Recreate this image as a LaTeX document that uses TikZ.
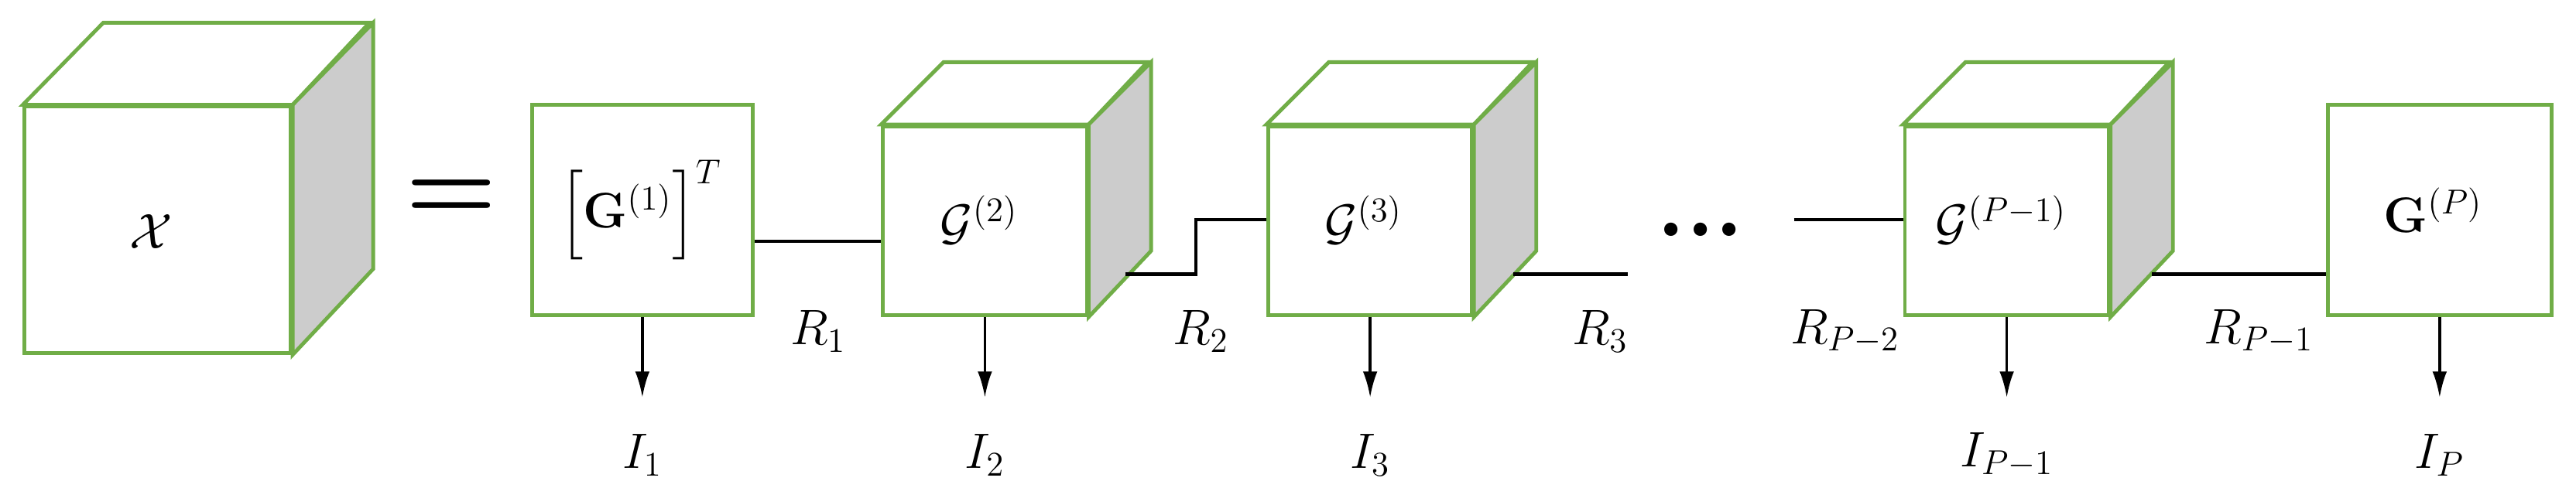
\documentclass[tikz,border=0pt]{standalone}
\usepackage{amsmath}
\usetikzlibrary{arrows.meta}
\definecolor{grn}{HTML}{70AD47}
\definecolor{gry}{HTML}{CCCCCC}
\begin{document}
\begin{tikzpicture}[x=0.02cm,y=-0.02cm,
  face/.style={draw=grn,line width=1.3pt,line join=miter},
  core/.style={face,fill=white,rectangle,inner sep=0pt},
  lbl/.style={font=\fontsize{16.5}{19}\selectfont},
  conn/.style={line width=1.1pt},
  outarr/.style={line width=0.9pt,-{Latex[length=9pt,width=5pt]}}]
\useasboundingbox (0,0) rectangle (1568,297);
% big cube
\node[core,minimum width=162*0.02cm,minimum height=150*0.02cm] (X) at (96,140) {};
\draw[face,fill=white] (X.north west) -- ++(49,-50) -- ++(162,0) -- (X.north east) -- cycle;
\draw[face,fill=gry] (X.north east) -- ++(49,-50) -- ++(0,150) -- (X.south east) -- cycle;
\node[lbl] (xl) at (92,141) {$\mathcal{X}$};
\node[font=\fontsize{36}{36}\selectfont\bfseries] (eq) at (275,122) {=};
% G1
\node[core,minimum width=134*0.02cm,minimum height=128*0.02cm] (g1) at (391,128) {};
\node[lbl] (g1l) at (390,128) {$\boldsymbol{\Bigl[}\mathbf{G}^{(1)}\boldsymbol{\Bigr]}^{T}$};
% cubes
\foreach \n/\cx in {g2/599.5,g3/834,gq/1221.5}{
  \node[core,minimum width=124*0.02cm,minimum height=115*0.02cm] (\n) at (\cx,134.5) {};
  \draw[face,fill=white] (\n.north west) -- ++(38,-38) -- ++(124,0) -- (\n.north east) -- cycle;
  \draw[face,fill=gry] (\n.north east) -- ++(38,-38) -- ++(0,115) -- (\n.south east) -- cycle;
}
\node[lbl] (g2l) at (596,134) {$\mathcal{G}^{(2)}$};
\node[lbl] (g3l) at (830,134) {$\mathcal{G}^{(3)}$};
\node[lbl] (gql) at (1218,134) {$\mathcal{G}^{(P-1)}$};
\node[core,minimum width=136*0.02cm,minimum height=128*0.02cm] (gp) at (1485,128) {};
\node[lbl] (gpl) at (1481,128) {$\mathbf{G}^{(P)}$};
% connectors
\coordinate (a2) at (685,167);
\coordinate (a3) at (921,167);
\coordinate (b3) at (991,167);
\coordinate (bq) at (1092,134);
\coordinate (aq) at (1310,167);
\draw[conn] (g1.east |- 0,147) -- (g2.west |- 0,147);
\draw[conn] (a2) -- (728,167) -- (728,134) -- (g3.west |- 0,134);
\draw[conn] (a3) -- (b3);
\draw[conn] (bq) -- (gq.west |- bq);
\draw[conn] (aq) -- (gp.west |- aq);
\node[font=\fontsize{32}{32}\selectfont\bfseries] (dots) at (1035,140) {...};
% outputs
\foreach \n/\t in {g1/1,g2/2,g3/3,gq/{P-1},gp/P}{
  \node[lbl] (i\n) at ([yshift=-1.68cm]\n.south) {$I_{\t}$};
  \draw[outarr] (\n.south) -- ([yshift=-0.98cm]\n.south);
}
\node[lbl] (r1) at (498,202) {$R_1$};
\node[lbl] (r2) at (731,202) {$R_2$};
\node[lbl] (r3) at (974,202) {$R_3$};
\node[lbl] (rp2) at (1123,202) {$R_{P-2}$};
\node[lbl] (rp1) at (1375,202) {$R_{P-1}$};
\end{tikzpicture}
\end{document}
